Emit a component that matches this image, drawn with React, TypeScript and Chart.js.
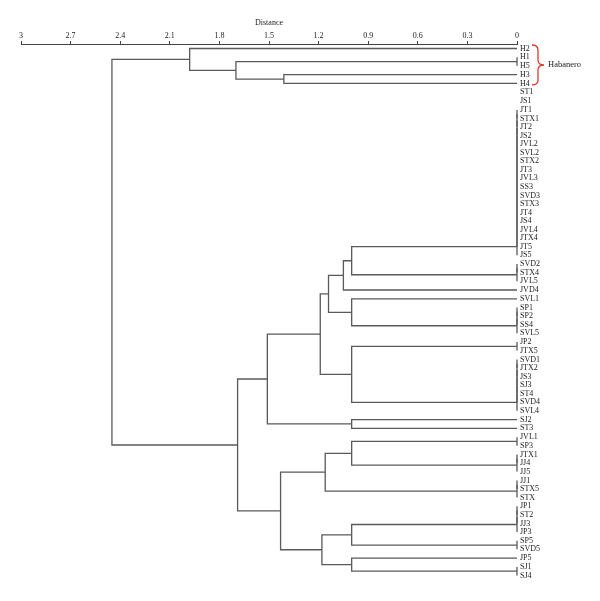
import React, { useEffect, useRef } from "react";
import { Chart, registerables } from "chart.js";

Chart.register(...registerables);

// ---------- data ----------
const leafLabels: string[] = [
  "H2", "H1", "H5", "H3", "H4",
  "ST1", "JS1", "JT1", "STX1", "JT2", "JS2", "JVL2", "SVL2", "STX2", "JT3", "JVL3", "SS3", "SVD3", "STX3", "JT4", "JS4", "JVL4", "JTX4", "JT5", "JS5",
  "SVD2", "STX4", "JVL5", "JVD4", "SVL1", "SP1", "SP2", "SS4", "SVL5", "JP2", "JTX5",
  "SVD1", "JTX2", "JS3", "SJ3", "ST4", "SVD4", "SVL4", "SJ2", "ST3",
  "JVL1", "SP3", "JTX1", "JJ4", "JJ5", "JJ1", "STX5", "STX",
  "JP1", "ST2", "JJ3", "JP3", "SP5", "SVD5", "JP5", "SJ1", "SJ4",
];

// clusters joined at distance 0
const zeroGroups: string[][] = [
  ["H2"], ["H1", "H5"], ["H3"], ["H4"],
  ["JT1", "STX1", "JT2", "JS2", "JVL2", "SVL2", "STX2", "JT3", "JVL3", "SS3", "SVD3", "STX3", "JT4", "JS4", "JVL4", "JTX4", "JT5", "JS5"],
  ["SVD2", "STX4", "JVL5"], ["JVD4"], ["SVL1"], ["SP1", "SP2", "SS4", "SVL5"], ["JP2", "JTX5"],
  ["SVD1", "JTX2", "JS3", "SJ3", "ST4", "SVD4", "SVL4"], ["SJ2"], ["ST3"],
  ["JVL1", "SP3"], ["JTX1", "JJ4", "JJ5"], ["JJ1", "STX5", "STX"],
  ["JP1", "ST2", "JJ3", "JP3"], ["SP5", "SVD5"], ["JP5"], ["SJ1", "SJ4"],
];

// linkage: indices < zeroGroups.length are groups, later ones are previous merges
const mergeLeft = [2, 1, 0, 4, 23, 7, 24, 9, 26, 11, 28, 13, 31, 16, 18, 33, 32, 30, 22];
const mergeRight = [3, 20, 21, 5, 6, 8, 25, 10, 27, 12, 29, 14, 15, 17, 19, 34, 35, 36, 37];
const mergeDistance = [1.41, 1.70, 1.98, 1.00, 1.05, 1.00, 1.14, 1.00, 1.19, 1.00, 1.51, 1.00, 1.16, 1.00, 1.00, 1.18, 1.43, 1.69, 2.45];

const distanceTicks = [3, 2.7, 2.4, 2.1, 1.8, 1.5, 1.2, 0.9, 0.6, 0.3, 0];
const braceLabel = "Habanero";
const braceFirst = "H2";
const braceLast = "H4";

// ---------- layout helpers ----------
const GAP_RATIO = 1.03;
const AXIS_H = 44;
const PAD_BOTTOM = 10;
const CANVAS_W = 600;
const CANVAS_H = 601;
const FIRST_PX = 48.5;
const LAST_PX = 575.5;
const SERIF = "'Liberation Serif', 'DejaVu Serif', serif";
const LINE_COLOR = "#5a5a5a";

function buildTree() {
  const groupOf = new Map<string, number>();
  zeroGroups.forEach((g, i) => g.forEach((l) => groupOf.set(l, i)));
  const rowOf = new Map<string, number>();
  const leafRow: number[] = [];
  let r = 0;
  leafLabels.forEach((l, i) => {
    if (i > 0) {
      const g = groupOf.get(l);
      const pg = groupOf.get(leafLabels[i - 1]);
      r += g !== undefined && g === pg ? 1 : GAP_RATIO;
    }
    leafRow.push(r);
    rowOf.set(l, r);
  });

  const segs: { x: number; y: number }[][] = [];
  const nodeY: number[] = [];
  const nodeH: number[] = [];
  zeroGroups.forEach((g) => {
    let y = rowOf.get(g[0]) as number;
    for (let k = 1; k < g.length; k++) {
      const ry = rowOf.get(g[k]) as number;
      segs.push([{ x: 0, y }, { x: 0, y: ry }]);
      y = (y + ry) / 2;
    }
    nodeY.push(y);
    nodeH.push(0);
  });
  mergeLeft.forEach((a, i) => {
    const b = mergeRight[i];
    const h = mergeDistance[i];
    segs.push([
      { x: nodeH[a], y: nodeY[a] },
      { x: h, y: nodeY[a] },
      { x: h, y: nodeY[b] },
      { x: nodeH[b], y: nodeY[b] },
    ]);
    nodeY.push((nodeY[a] + nodeY[b]) / 2);
    nodeH.push(h);
  });
  return { leafRow, rowOf, segs };
}

const bracePlugin = {
  id: "habaneroBrace",
  afterDraw(chart: any) {
    const { ctx, scales } = chart;
    const tree = chart.options.plugins.habaneroBrace.tree;
    const xs = scales.x;
    const ys = scales.y;
    const y1 = ys.getPixelForValue(tree.rowOf.get(braceFirst));
    const y2 = ys.getPixelForValue(tree.rowOf.get(braceLast));
    const top = y1 - 3.5;
    const bottom = y2 + 1.5;
    const mid = (top + bottom) / 2;
    const x0 = xs.getPixelForValue(0) + 15;
    const x1 = x0 + 6;
    const x2 = x0 + 12;
    ctx.save();
    ctx.strokeStyle = "#e03a2f";
    ctx.lineWidth = 1.3;
    ctx.beginPath();
    ctx.moveTo(x0, top);
    ctx.quadraticCurveTo(x1, top, x1, top + 5);
    ctx.lineTo(x1, mid - 5);
    ctx.quadraticCurveTo(x1, mid, x2, mid);
    ctx.quadraticCurveTo(x1, mid, x1, mid + 5);
    ctx.lineTo(x1, bottom - 5);
    ctx.quadraticCurveTo(x1, bottom, x0, bottom);
    ctx.stroke();
    ctx.fillStyle = "#222";
    ctx.font = `8.5px ${SERIF}`;
    ctx.textAlign = "left";
    ctx.textBaseline = "middle";
    ctx.fillText(braceLabel, x2 + 4, mid);
    ctx.restore();
  },
};

export default function App() {
  const canvasRef = useRef<HTMLCanvasElement | null>(null);

  useEffect(() => {
    const canvas = canvasRef.current;
    if (!canvas) return;
    const tree = buildTree();
    const R = tree.leafRow[tree.leafRow.length - 1];
    const areaH = CANVAS_H - PAD_BOTTOM - AXIS_H;
    const span = (R * areaH) / (LAST_PX - FIRST_PX);
    const yMin = -((FIRST_PX - AXIS_H) * span) / areaH;
    const yMax = yMin + span;

    const datasets = tree.segs.map((s) => ({
      data: s,
      showLine: true,
      borderColor: LINE_COLOR,
      borderWidth: 1.3,
      pointRadius: 0,
      pointHoverRadius: 0,
      fill: false,
      tension: 0,
      clip: false as any,
    }));

    const chart = new Chart(canvas, {
      type: "scatter",
      data: { datasets },
      options: {
        responsive: false,
        animation: false,
        events: [],
        layout: { padding: { left: 21, right: 0, top: 0, bottom: PAD_BOTTOM } },
        plugins: {
          legend: { display: false },
          tooltip: { enabled: false },
          habaneroBrace: { tree },
        } as any,
        scales: {
          x: {
            type: "linear",
            position: "top",
            reverse: true,
            min: 0,
            max: 3,
            afterBuildTicks: (s: any) => {
              s.ticks = distanceTicks.map((v) => ({ value: v }));
            },
            afterFit: (s: any) => {
              s.height = AXIS_H;
            },
            grid: { drawOnChartArea: false, drawTicks: true, tickLength: 3, color: "#444", lineWidth: 1 },
            border: { display: true, color: "#444", width: 1 },
            ticks: {
              autoSkip: false,
              maxRotation: 0,
              padding: 0,
              color: "#222",
              font: { family: SERIF, size: 8 },
              callback: (v: any) => String(+Number(v).toFixed(1)),
            },
            title: {
              display: true,
              text: "Distance",
              color: "#222",
              font: { family: SERIF, size: 8 },
              padding: { top: 18, bottom: 0 },
            },
          },
          y: {
            type: "linear",
            position: "right",
            reverse: true,
            min: yMin,
            max: yMax,
            afterBuildTicks: (s: any) => {
              s.ticks = tree.leafRow.map((v) => ({ value: v }));
            },
            afterFit: (s: any) => {
              s.width = 83;
            },
            grid: { display: false, drawTicks: false },
            border: { display: false },
            ticks: {
              autoSkip: false,
              padding: 3,
              color: "#222",
              font: { family: SERIF, size: 8 },
              callback: (_v: any, i: number) => leafLabels[i],
            },
          },
        },
      },
      plugins: [bracePlugin],
    } as any);

    return () => chart.destroy();
  }, []);

  return (
    <div style={{ position: "fixed", left: 0, top: 0, width: CANVAS_W, height: CANVAS_H, background: "#fff" }}>
      <canvas ref={canvasRef} width={CANVAS_W} height={CANVAS_H} style={{ display: "block" }} />
    </div>
  );
}
